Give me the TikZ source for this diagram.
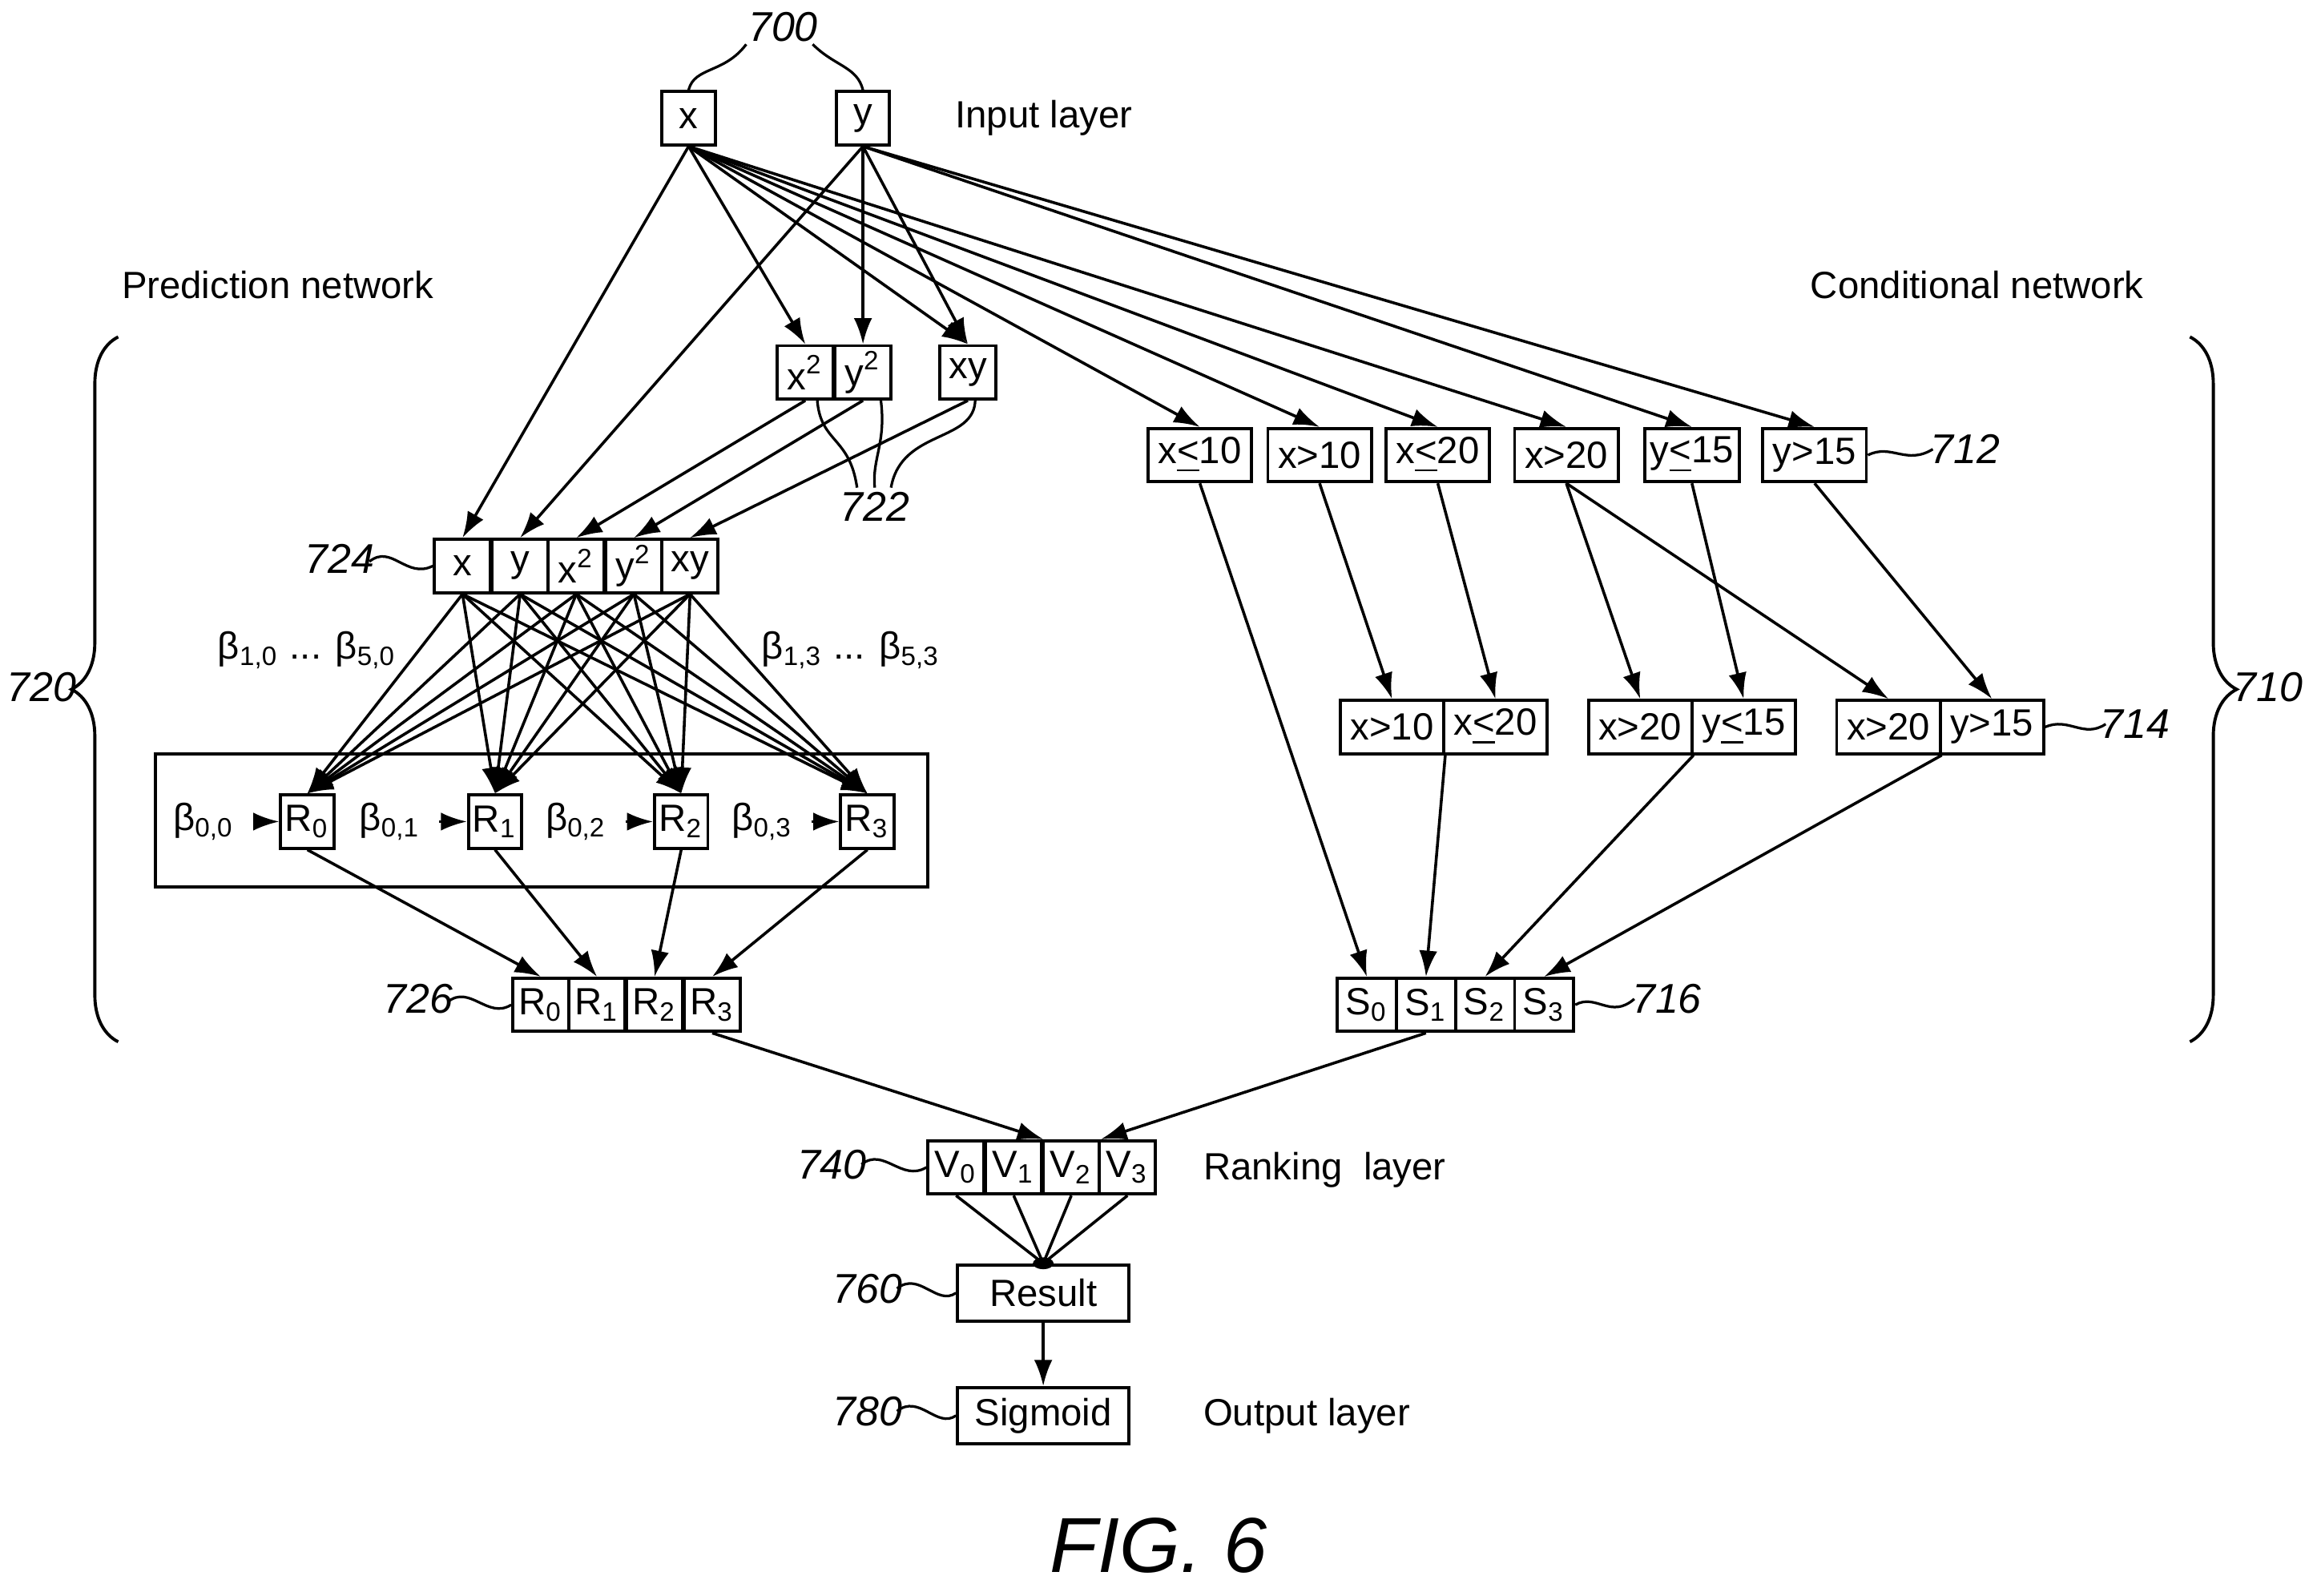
\documentclass[tikz,border=0pt]{standalone}
\usepackage{fontspec}
\setmainfont{Liberation Sans}
\usetikzlibrary{arrows.meta,decorations.pathreplacing}
\newcommand{\mysb}[1]{\textsubscript{#1}}
\newcommand{\mysp}[1]{\textsuperscript{#1}}
\newcommand{\myle}{\underline{<}}
\begin{document}
\begin{tikzpicture}[x=0.01cm,y=-0.01cm,
  every node/.style={font=\fontsize{7.3}{9}\selectfont},
  b/.style={draw,line width=0.6pt,minimum height=0.36cm,inner sep=0pt,minimum width=#1},
  b/.default=0.38cm,
  ln/.style={line width=0.55pt},
  ar/.style={line width=0.55pt,-{Latex[length=5pt,width=3.5pt]}},
  lab/.style={font=\fontsize{8}{10}\selectfont\itshape},
  lead/.style={line width=0.5pt}]
\useasboundingbox (0,0) rectangle (1568,1080);
\fill[white] (0,0) rectangle (1568,1080);
% input
\node[b=0.36cm] (x) at (466,80) {x};
\node[b=0.36cm] (y) at (584,80) {y};
\node[lab] (l700) at (530,18) {700};
\draw[lead] (x.north) .. controls (470,45) and (490,50) .. (505,30);
\draw[lead] (y.north) .. controls (580,45) and (565,45) .. (550,30);
\node[anchor=west] (il) at (634,80) {Input layer};
\node (pn) at (188,193) {Prediction network};
\node (cn) at (1338,193) {Conditional network};
% squares
\node[b] (x2) at (545,252) {x\mysp{2}};
\node[b] (y2) at (584,252) {y\mysp{2}};
\node[b] (xy) at (655,252) {xy};
\node[lab] (l722) at (592,343) {722};
\draw[lead] (553,270) .. controls (555,300) and (575,295) .. (580,330);
\draw[lead] (596,270) .. controls (600,300) and (590,310) .. (592,330);
\draw[lead] (660,270) .. controls (660,300) and (610,290) .. (603,330);
% 724
\node[b] (c1) at (313,383) {x};
\node[b] (c2) at (352,383) {y};
\node[b] (c3) at (390,383) {x\mysp{2}};
\node[b] (c4) at (429,383) {y\mysp{2}};
\node[b] (c5) at (467,383) {xy};
\node[lab] (l724) at (230,378) {724};
\draw[lead] (250,380) .. controls (265,368) and (275,392) .. (c1.west);
% conditional
\node[b=0.7cm] (k1) at (812,308) {x\myle10};
\node[b=0.7cm] (k2) at (893,308) {x>10};
\node[b=0.7cm] (k3) at (973,308) {x\myle20};
\node[b=0.7cm] (k4) at (1060,308) {x>20};
\node[b=0.64cm] (k5) at (1145,308) {y\myle15};
\node[b=0.7cm] (k6) at (1228,308) {y>15};
\node[lab] (l712) at (1330,304) {712};
\draw[lead] (k6.east) .. controls (1280,300) and (1290,315) .. (1308,304);
% 714
\node[b=0.7cm] (m1) at (942,492) {x>10};
\node[b=0.7cm] (m2) at (1012,492) {x\myle20};
\node[b=0.7cm] (m3) at (1110,492) {x>20};
\node[b=0.7cm] (m4) at (1180,492) {y\myle15};
\node[b=0.7cm] (m5) at (1278,492) {x>20};
\node[b=0.7cm] (m6) at (1348,492) {y>15};
\node[lab] (l714) at (1445,490) {714};
\draw[lead] (m6.east) .. controls (1400,485) and (1410,500) .. (1425,490);
% box
\draw[line width=0.6pt] (105,510) rectangle (628,600);
\node[b=0.36cm] (r0) at (208,556) {R\mysb{0}};
\node[b=0.36cm] (r1) at (335,556) {R\mysb{1}};
\node[b=0.36cm] (r2) at (461,556) {R\mysb{2}};
\node[b=0.36cm] (r3) at (587,556) {R\mysb{3}};
\node (be0) at (138,556) {β\mysb{0,0}};
\node (be1) at (264,556) {β\mysb{0,1}};
\node (be2) at (390,556) {β\mysb{0,2}};
\node (be3) at (516,556) {β\mysb{0,3}};
\draw[ar] (be0) -- (r0); \draw[ar] (be1) -- (r1); \draw[ar] (be2) -- (r2); \draw[ar] (be3) -- (r3);
\node (bl) at (208,440) {β\mysb{1,0} ... β\mysb{5,0}};
\node (br) at (576,440) {β\mysb{1,3} ... β\mysb{5,3}};
% 726
\node[b] (q0) at (366,680) {R\mysb{0}};
\node[b] (q1) at (404,680) {R\mysb{1}};
\node[b] (q2) at (443,680) {R\mysb{2}};
\node[b] (q3) at (482,680) {R\mysb{3}};
\node[lab] (l726) at (283,676) {726};
\draw[lead] (303,678) .. controls (318,666) and (330,690) .. (q0.west);
% S
\node[b=0.4cm] (s0) at (925,680) {S\mysb{0}};
\node[b=0.4cm] (s1) at (965,680) {S\mysb{1}};
\node[b=0.4cm] (s2) at (1005,680) {S\mysb{2}};
\node[b=0.4cm] (s3) at (1045,680) {S\mysb{3}};
\node[lab] (l716) at (1128,676) {716};
\draw[lead] (s3.east) .. controls (1080,672) and (1090,690) .. (1106,676);
% braces
\node[lab] (l720) at (28,465) {720};
\draw[line width=0.6pt,decorate,decoration={brace,amplitude=9pt}] (80,705) -- (80,228);
\node[lab] (l710) at (1535,465) {710};
\draw[line width=0.6pt,decorate,decoration={brace,amplitude=9pt}] (1482,228) -- (1482,705);
% V
\node[b] (v0) at (647,790) {V\mysb{0}};
\node[b] (v1) at (686,790) {V\mysb{1}};
\node[b] (v2) at (725,790) {V\mysb{2}};
\node[b] (v3) at (763,790) {V\mysb{3}};
\node[lab] (l740) at (563,788) {740};
\draw[lead] (583,788) .. controls (598,776) and (610,800) .. (v0.west);
\node[anchor=west] (rl) at (802,792) {Ranking\ \ layer};
\node[b=1.16cm,minimum height=0.38cm] (res) at (706,875) {Result};
\node[lab] (l760) at (587,872) {760};
\draw[lead] (607,872) .. controls (622,860) and (634,884) .. (res.west);
\node[b=1.16cm,minimum height=0.38cm] (sig) at (706,958) {Sigmoid};
\node[lab] (l780) at (587,955) {780};
\draw[lead] (607,955) .. controls (622,943) and (634,967) .. (sig.west);
\node[anchor=west] (ol) at (802,958) {Output layer};
\node[font=\fontsize{15}{18}\selectfont\itshape] (fig) at (784,1046) {FIG. 6};
% edges from inputs
\draw[ar] (x.south) -- (c1.north);
\draw[ar] (x.south) -- (x2.north);
\draw[ar] (x.south) -- (xy.north);
\draw[ar] (x.south) -- (k1.north);
\draw[ar] (x.south) -- (k2.north);
\draw[ar] (x.south) -- (k3.north);
\draw[ar] (x.south) -- (k4.north);
\draw[ar] (y.south) -- (c2.north);
\draw[ar] (y.south) -- (y2.north);
\draw[ar] (y.south) -- (xy.north);
\draw[ar] (y.south) -- (k5.north);
\draw[ar] (y.south) -- (k6.north);
\draw[ar] (x2.south) -- (c3.north);
\draw[ar] (y2.south) -- (c4.north);
\draw[ar] (xy.south) -- (c5.north);
% 724 -> R
\foreach \c in {c1,c2,c3,c4,c5}{
  \foreach \r in {r0,r1,r2,r3}{\draw[ar] (\c.south) -- (\r.north);}}
% R -> 726
\draw[ar] (r0.south) -- (q0.north);
\draw[ar] (r1.south) -- (q1.north);
\draw[ar] (r2.south) -- (q2.north);
\draw[ar] (r3.south) -- (q3.north);
% conditional
\draw[ar] (k1.south) -- (s0.north);
\draw[ar] (k2.south) -- (m1.north);
\draw[ar] (k3.south) -- (m2.north);
\draw[ar] (k4.south) -- (m3.north);
\draw[ar] (k4.south) -- (m5.north);
\draw[ar] (k5.south) -- (m4.north);
\draw[ar] (k6.south) -- (m6.north);
\draw[ar] (m1.south east) -- (s1.north);
\draw[ar] (m3.south east) -- (s2.north);
\draw[ar] (m5.south east) -- (s3.north);
% to V
\draw[ar] (q3.south) -- (v1.north east);
\draw[ar] (s1.south) -- (v2.north east);
\coordinate (rt) at (res.north);
\foreach \v in {v0,v1,v2,v3}{\draw[ln] (\v.south) -- (rt);}
\fill (rt) ellipse (7 and 4);
\draw[ar] (res.south) -- (sig.north);
\end{tikzpicture}
\end{document}
